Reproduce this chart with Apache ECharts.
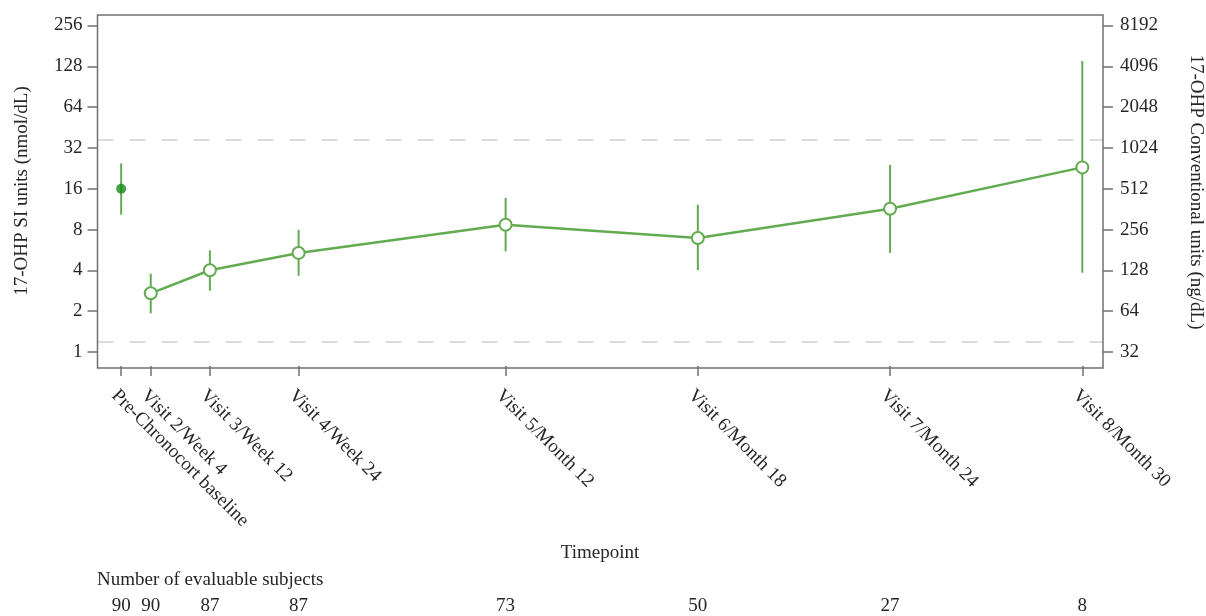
<!DOCTYPE html>
<html>
<head>
<meta charset="utf-8">
<script src="https://cdn.jsdelivr.net/npm/echarts@6/dist/echarts.min.js"></script>
<style>
  html, body { margin: 0; padding: 0; background: #fff; }
  #chart { width: 1206px; height: 616px; }
</style>
</head>
<body>
<div id="chart"></div>
<script>
// Study timepoints, placed on the x axis by week since baseline
const timepoints = ['Pre-Chronocort baseline', 'Visit 2/Week 4', 'Visit 3/Week 12', 'Visit 4/Week 24',
  'Visit 5/Month 12', 'Visit 6/Month 18', 'Visit 7/Month 24', 'Visit 8/Month 30'];
const weeks = [0, 4, 12, 24, 52, 78, 104, 130];

// 17-OHP (nmol/dL): central estimate with lower and upper bounds
const center = [16.0, 2.71, 4.01, 5.38, 8.68, 6.93, 11.4, 23.0];
const lower = [10.3, 1.93, 2.83, 3.65, 5.53, 4.01, 5.38, 3.84];
const upper = [24.6, 3.79, 5.62, 7.98, 13.7, 12.2, 24.0, 140];

// Number of evaluable subjects at each timepoint
const nSubjects = [90, 90, 87, 87, 73, 50, 27, 8];

// Reference range lines (nmol/dL)
const referenceLines = [1.2, 37];

// Axis ranges
const siRange = [1, 256];
const convRange = [32, 8192];

const FONT = 'Liberation Serif';
const TXT = '#262626';
const GREEN = '#62ab50';
const DARK_GREEN = '#178a17';
const FRAME = '#707070';

const baselinePoint = [[weeks[0], center[0]]];
const visitPoints = weeks.slice(1).map((w, i) => [w, center[i + 1]]);
const bars = weeks.map((w, i) => [w, lower[i], upper[i]]);

const labelFor = v => {
  const i = weeks.indexOf(v);
  return i >= 0 ? timepoints[i] : '';
};
const countFor = v => {
  const i = weeks.indexOf(v);
  return i >= 0 ? String(nSubjects[i]) : '';
};
const plain = v => String(Math.round(v));

const chart = echarts.init(document.getElementById('chart'), null, { renderer: 'canvas' });

const gridL = 97.5, gridR = 103;
const textBase = { fontFamily: FONT, fontSize: 19, fill: TXT };

chart.setOption({
  animation: false,
  backgroundColor: '#fff',
  grid: [
    { left: gridL, right: gridR, top: 25.5, bottom: 262 },
    { left: gridL, right: gridR, top: 15, bottom: 248, show: true,
      borderColor: FRAME, borderWidth: 1.5, backgroundColor: 'transparent', z: 10 }
  ],
  xAxis: [
    {
      type: 'value', gridIndex: 0, min: -3.2, max: 132.8, offset: 14,
      splitLine: { show: false },
      axisLine: { show: false, onZero: false },
      axisTick: { show: true, length: 10, customValues: weeks, lineStyle: { color: FRAME, width: 1.5 } },
      axisLabel: {
        customValues: weeks, formatter: labelFor, rotate: -45,
        align: 'left', verticalAlign: 'top', margin: 20,
        fontFamily: FONT, fontSize: 19, color: TXT
      }
    },
    {
      type: 'value', gridIndex: 0, min: -3.2, max: 132.8, position: 'bottom', offset: 245,
      splitLine: { show: false },
      axisLine: { show: false, onZero: false },
      axisTick: { show: false },
      axisLabel: {
        customValues: weeks, formatter: countFor, margin: 0,
        fontFamily: FONT, fontSize: 19, color: TXT
      }
    },
    { type: 'value', gridIndex: 1, show: false, min: 0, max: 1 }
  ],
  yAxis: [
    {
      type: 'log', logBase: 2, gridIndex: 0, min: siRange[0], max: siRange[1], splitNumber: 8,
      position: 'left',
      splitLine: { show: false }, minorTick: { show: false },
      axisLine: { show: false, onZero: false },
      axisTick: { show: true, length: 10, lineStyle: { color: FRAME, width: 1.5 } },
      axisLabel: { margin: 15, formatter: plain, fontFamily: FONT, fontSize: 19, color: TXT }
    },
    {
      type: 'log', logBase: 2, gridIndex: 0, min: convRange[0], max: convRange[1], splitNumber: 8,
      position: 'right',
      splitLine: { show: false }, minorTick: { show: false },
      axisLine: { show: false, onZero: false },
      axisTick: { show: true, length: 10, lineStyle: { color: FRAME, width: 1.5 } },
      axisLabel: { margin: 17, formatter: plain, fontFamily: FONT, fontSize: 19, color: TXT }
    },
    { type: 'value', gridIndex: 1, show: false, min: 0, max: 1 }
  ],
  series: [
    {
      name: 'CI', type: 'custom', xAxisIndex: 0, yAxisIndex: 0,
      data: bars,
      encode: { x: 0, y: [1, 2] },
      renderItem: (params, api) => {
        const lo = api.coord([api.value(0), api.value(1)]);
        const hi = api.coord([api.value(0), api.value(2)]);
        return {
          type: 'line',
          shape: { x1: lo[0], y1: lo[1], x2: hi[0], y2: hi[1] },
          style: { stroke: GREEN, lineWidth: 2 }
        };
      },
      z: 2
    },
    {
      name: 'Visits', type: 'line', xAxisIndex: 0, yAxisIndex: 0,
      data: visitPoints,
      symbol: 'emptyCircle', symbolSize: 12,
      lineStyle: { color: GREEN, width: 2.5 },
      itemStyle: { color: GREEN, borderWidth: 1.8 },
      markLine: {
        silent: true, symbol: 'none', label: { show: false },
        lineStyle: { color: '#d2d0d6', width: 1.5, type: [16, 16] },
        data: referenceLines.map(v => ({ yAxis: v }))
      },
      z: 3
    },
    {
      name: 'Baseline', type: 'scatter', xAxisIndex: 0, yAxisIndex: 0,
      data: baselinePoint,
      symbol: 'circle', symbolSize: 10,
      itemStyle: { color: DARK_GREEN },
      z: 4
    }
  ],
  graphic: [
    { type: 'text', x: 22, y: 191, rotation: Math.PI / 2,
      style: Object.assign({ text: '17-OHP SI units (nmol/dL)', align: 'center', verticalAlign: 'middle' }, textBase) },
    { type: 'text', x: 1196, y: 192, rotation: -Math.PI / 2,
      style: Object.assign({ text: '17-OHP Conventional units (ng/dL)', align: 'center', verticalAlign: 'middle' }, textBase) },
    { type: 'text', x: 600, y: 553,
      style: Object.assign({ text: 'Timepoint', align: 'center', verticalAlign: 'middle' }, textBase) },
    { type: 'text', x: 97, y: 580,
      style: Object.assign({ text: 'Number of evaluable subjects', align: 'left', verticalAlign: 'middle' }, textBase) }
  ]
});
</script>
</body>
</html>
